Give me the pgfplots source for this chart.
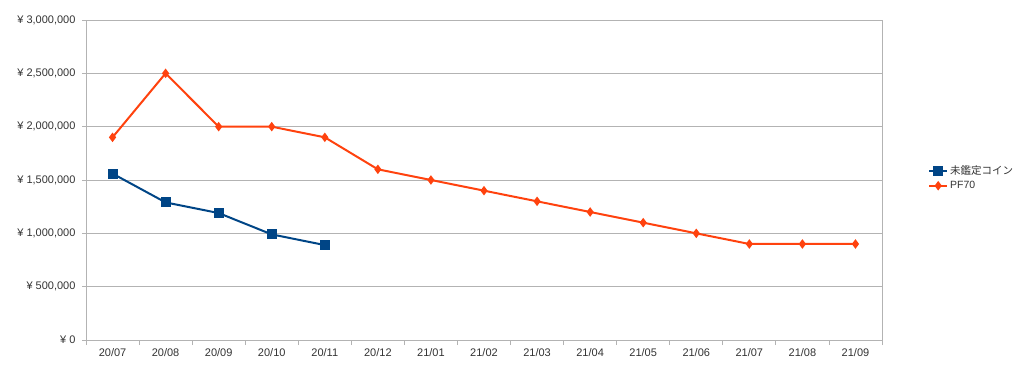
\documentclass[border=0pt]{standalone}
\usepackage{pgfplots}
\pgfplotsset{compat=1.18}
\usepackage{fontspec}
\setmainfont{Liberation Sans}
\newfontfamily\cjk{Noto Sans CJK JP}
\definecolor{lblue}{HTML}{004586}
\definecolor{lorange}{HTML}{FF420E}
\definecolor{gridc}{HTML}{B3B3B3}
\definecolor{txt}{HTML}{333333}
\begin{document}
\begin{tikzpicture}
\path[use as bounding box] (0,0) rectangle (1024pt,372pt);
\begin{axis}[
  at={(86pt,32pt)}, anchor=south west,
  scale only axis, width=796pt, height=320pt,
  xmin=-0.5, xmax=14.5, ymin=0, ymax=3000000,
  scaled y ticks=false,
  xtick={0,...,14},
  xticklabels={20/07,20/08,20/09,20/10,20/11,20/12,21/01,21/02,21/03,21/04,21/05,21/06,21/07,21/08,21/09},
  minor xtick={-0.5,0.5,...,14.5},
  major x tick style={draw=none},
  minor tick length=5pt,
  ytick={0,500000,...,3000000},
  yticklabels={{¥ 0},{¥ 500,000},{¥ 1,000,000},{¥ 1,500,000},{¥ 2,000,000},{¥ 2,500,000},{¥ 3,000,000}},
  tick align=outside, major tick length=4pt,
  tick style={gridc, line width=0.8pt},
  ymajorgrids, grid style={gridc, line width=0.8pt},
  axis line style={gridc, line width=0.8pt},
  xtick pos=bottom, ytick pos=left,
  tick label style={font=\fontsize{11}{12}\selectfont, text=txt},
  xticklabel style={yshift=-1pt},
  yticklabel style={xshift=-3pt},
  legend style={at={(1.054,0.506)}, anchor=west, draw=none, fill=none,
    font=\fontsize{10.5}{13}\selectfont, text=txt, row sep=1pt},
  legend cell align=left,
  legend image code/.code={
    \draw[#1] (0pt,0pt) -- (18pt,0pt);
    \draw[#1, mark repeat=2, mark phase=2] plot coordinates {(0pt,0pt) (9pt,0pt) (18pt,0pt)};
  },
]
\addplot[lblue, line width=2pt, mark=square*, mark size=4pt, mark options={solid}]
 coordinates {(0,1560000)(1,1290000)(2,1190000)(3,990000)(4,890000)};
\addlegendentry{\cjk 未鑑定コイン}
\addplot[lorange, line width=2pt, mark=diamond*, mark size=3.5pt, mark options={scale=0.9}]
 coordinates {(0,1900000)(1,2500000)(2,2000000)(3,2000000)(4,1900000)(5,1600000)(6,1500000)(7,1400000)(8,1300000)(9,1200000)(10,1100000)(11,1000000)(12,900000)(13,900000)(14,900000)};
\addlegendentry{PF70}
\end{axis}
\end{tikzpicture}
\end{document}
